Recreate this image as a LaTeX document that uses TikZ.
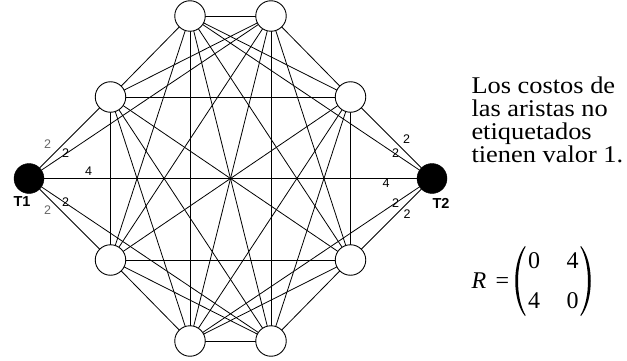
\documentclass[tikz,border=0pt]{standalone}
\usepackage{fontspec}
\setmainfont{Liberation Serif}
\newfontfamily\lsans{Liberation Sans}
\newfontfamily\txtfont[FakeStretch=1.1]{Liberation Serif}
\usetikzlibrary{backgrounds}
\begin{document}
\begin{tikzpicture}[x=1pt,y=-1pt,
  every node/.style={inner sep=0pt,outer sep=0pt},
  vtx/.style={circle,draw=black,fill=white,minimum size=30.5pt,line width=0.9pt},
  term/.style={circle,draw=black,fill=black,minimum size=30pt},
  edg/.style={line width=0.8pt,black},
  lab/.style={font=\lsans\fontsize{12.5}{12.5}\selectfont},
  labg/.style={lab,text=black!60},
  tlab/.style={font=\lsans\bfseries\fontsize{14.5}{14.5}\selectfont},
  txt/.style={anchor=base west,font=\txtfont\fontsize{24}{24}\selectfont},
  mtx/.style={font=\fontsize{24}{24}\selectfont}]
\useasboundingbox (0,0) rectangle (627,361);
% ring vertices
\node[vtx] (a) at (190,16) {};
\node[vtx] (b) at (271,16) {};
\node[vtx] (c) at (110.5,97) {};
\node[vtx] (d) at (350.5,97) {};
\node[vtx] (e) at (110.5,260) {};
\node[vtx] (f) at (350.5,260) {};
\node[vtx] (g) at (190,341) {};
\node[vtx] (h) at (271,341) {};
% terminals
\node[term] (T1) at (29,178.5) {};
\node[term] (T2) at (432,178.5) {};
\node[tlab] (t1l) at (22,202) {T1};
\node[tlab] (t2l) at (441,203) {T2};
% edges
\begin{scope}[on background layer]
\foreach \u [count=\i] in {a,b,c,d,e,f,g,h}{
  \foreach \v [count=\j] in {a,b,c,d,e,f,g,h}{
    \ifnum\j>\i \draw[edg] (\u) -- (\v); \fi
  }
}
\foreach \v in {c,b,e,h,T2} \draw[edg] (T1) -- (\v);
\foreach \v in {d,a,f,g} \draw[edg] (T2) -- (\v);
\end{scope}
% edge labels
\node[labg] (l1) at (47.5,144) {2};
\node[lab]  (l2) at (65.5,153) {2};
\node[lab]  (l3) at (88.5,171) {4};
\node[lab]  (l4) at (65.5,202.5) {2};
\node[labg] (l5) at (47.5,210.5) {2};
\node[lab]  (r1) at (406.5,139.5) {2};
\node[lab]  (r2) at (395.5,153.5) {2};
\node[lab]  (r3) at (386,183.5) {4};
\node[lab]  (r4) at (395.5,203.5) {2};
\node[lab]  (r5) at (407,214.5) {2};
% text
\node[txt] (x1) at (471.5,94) {Los costos de};
\node[txt] (x2) at (471.5,116.7) {las aristas no};
\node[txt] (x3) at (471.5,139.4) {etiquetados};
\node[txt] (x4) at (471.5,162) {tienen valor 1.};
% matrix
\node[mtx,anchor=base west] (mR) at (471.5,288) {\itshape R};
\node[mtx,anchor=base] (meq) at (502.5,288) {=};
\node[mtx,anchor=base] (m11) at (534,268) {0};
\node[mtx,anchor=base] (m12) at (572.5,268) {4};
\node[mtx,anchor=base] (m21) at (534,308) {4};
\node[mtx,anchor=base] (m22) at (572.5,308) {0};
\fill (525,246) .. controls (512,262) and (512,300) .. (525,316)
  -- (525.6,315.3) .. controls (515.5,299) and (515.5,263) .. (525.6,246.7) -- cycle;
\fill (581,246) .. controls (594,262) and (594,300) .. (581,316)
  -- (580.4,315.3) .. controls (590.5,299) and (590.5,263) .. (580.4,246.7) -- cycle;
\end{tikzpicture}
\end{document}
